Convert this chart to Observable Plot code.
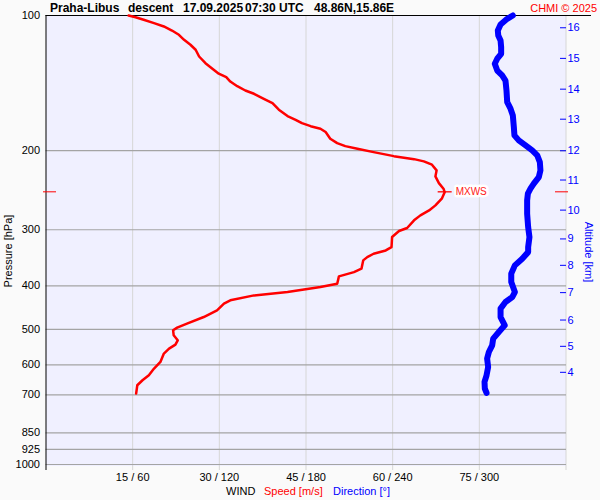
<!DOCTYPE html>
<html><head><meta charset="utf-8">
<script src="https://cdn.jsdelivr.net/npm/d3@7"></script>
<script src="https://cdn.jsdelivr.net/npm/@observablehq/plot@0.6"></script>
<style>
html,body{margin:0;padding:0;background:#fafafa;}
svg{display:block;}
</style></head><body><div id="chart"></div>
<script>
// ---- data ----
const pressureTicks = [100, 200, 300, 400, 500, 600, 700, 850, 925, 1000];
const pressureGrid = [200, 300, 400, 500, 600, 700, 850, 925, 1000];
const speedTicks = [15, 30, 45, 60, 75];
const altitudeKm = [4, 5, 6, 7, 8, 9, 10, 11, 12, 13, 14, 15, 16];
const altitudeP = [623.3, 545.5, 476.7, 414.2, 360.1, 314.5, 271.3, 232.5, 200.1, 170.2, 145.9, 124.6, 106.5];

const speedPressure = [100,100.9,102.2,104.0,105.8,108.0,110.4,113.3,116.2,119.2,123.4,127.7,131.4,134.8,137.2,140.3,143.7,146.9,149.4,153.3,156.7,162.1,167.5,170.7,173.7,176.4,178.7,181.8,188.1,192.4,195.4,198.1,201.5,205.7,208.9,211.3,214.9,221.3,228.2,236.2,243.1,247.5,255.9,264.8,271.7,278.7,285.9,297.4,302.0,311.5,328.0,333.6,339.3,345.2,351.1,366.4,372.8,381.1,395.6,402.6,413.0,420.1,430.9,438.3,453.6,469.4,485.6,495.6,502.5,515.5,528.9,540.7,551.9,566.2,591.1,611.4,632.8,649.2,666.1,695.0];
const speedValue = [14.3,15.5,16.9,18.7,20.4,21.8,23.0,23.9,25.0,25.9,26.5,27.6,28.8,29.9,31.2,31.9,33.1,34.5,36.0,37.7,39.2,40.3,41.8,43.2,44.3,45.8,47.5,48.4,49.2,50.4,51.8,53.9,56.7,60.2,63.7,65.4,66.8,67.6,67.4,68.0,68.8,69.0,68.5,67.4,66.3,64.8,63.7,62.5,61.1,59.9,59.8,58.8,56.7,55.6,54.9,54.6,53.3,50.7,50.4,47.5,41.8,36.0,31.9,30.8,29.6,27.3,24.4,22.7,22.0,22.1,22.8,22.4,21.3,20.4,19.8,18.7,17.8,16.7,15.8,15.6];

const dirPressure = [100,101.7,104.7,108.0,110.8,113.7,117.6,121.7,124.8,128.1,132.6,136.0,139.6,146.9,156.0,161.3,167.0,177.3,184.9,189.7,194.7,199.8,204.9,212.1,221.3,229.0,236.9,243.1,249.4,258.1,276.3,296.0,311.5,328.0,336.5,348.0,360.2,375.8,392.4,413.0,423.8,434.6,449.6,469.4,489.8,507.0,524.3,542.7,561.6,580.9,606.5,632.8,654.9,677.4,692.9];
const dirValue = [323.2,319.3,314.7,312.8,313.1,314.7,315.1,315.1,312.4,310.7,312.4,315.8,318.1,318.8,319.3,321.6,323.2,323.9,324.3,327.3,332.0,336.6,340.1,341.9,342.3,341.2,337.7,335.4,333.6,333.1,333.1,333.8,334.7,333.8,333.8,329.7,324.6,322.1,322.1,324.6,322.8,318.1,314.7,314.7,317.6,313.5,309.6,308.9,306.6,305.4,306.1,305.0,303.6,303.8,305.0];

const maxWindSpeed = 69.0;
const maxWindPressure = 247;

// ---- tables ----
const speedData = speedPressure.map((p, i) => ({p, v: speedValue[i]}));
const dirData = dirPressure.map((p, i) => ({p, v: dirValue[i] / 4})); // 360° on the 90 m/s scale
const altData = altitudeP.map((p, i) => ({p, km: altitudeKm[i]}));
const mx = [{p: maxWindPressure, v: maxWindSpeed}];

const hbar = {draw(ctx) { ctx.moveTo(-7, 0); ctx.lineTo(7, 0); }};

const FONT = "'Liberation Sans', Arial, Helvetica, sans-serif";

const svg = Plot.plot({
  width: 600,
  height: 500,
  marginTop: 15,
  marginBottom: 36,
  marginLeft: 45.5,
  marginRight: 34.5,
  style: {background: "transparent", fontFamily: FONT, fontSize: "11px", color: "black"},
  x: {domain: [0, 90], ticks: speedTicks, tickFormat: d => `${d} / ${d * 4}`, tickSize: 0, tickPadding: 9, label: null},
  y: {type: "log", domain: [100, 1000], reverse: true, ticks: pressureTicks, tickFormat: d => String(d), tickSize: 0, tickPadding: 6, label: null},
  marks: [
    Plot.frame({fill: "#f0f0ff", stroke: "none", insetBottom: -1.5}),
    Plot.ruleX(speedTicks.concat([90]), {stroke: "#d6d6d6", insetBottom: -6}),
    Plot.ruleY(pressureGrid, {stroke: "#a4a4a4", strokeWidth: 1.2, insetRight: -0.5}),
    Plot.ruleX([0], {stroke: "black", insetBottom: -6}),
    Plot.ruleY([100], {stroke: "black", insetRight: -25.5}),
    Plot.ruleY(altData, {y: "p", stroke: "blue", insetLeft: 514.5, insetRight: -0.5}),
    Plot.text(altData, {y: "p", text: d => String(d.km), frameAnchor: "right", dx: 1.5, textAnchor: "start", fill: "blue", fontSize: 11}),
    Plot.ruleY(mx, {y: "p", stroke: "red", insetLeft: -2.5, insetRight: 509.5}),
    Plot.ruleY(mx, {y: "p", stroke: "red", insetLeft: 509.5, insetRight: -2.5}),
    Plot.line(dirData, {x: "v", y: "p", stroke: "blue", strokeWidth: 6, strokeLinecap: "round", strokeLinejoin: "round"}),
    Plot.line(speedData, {x: "v", y: "p", stroke: "red", strokeWidth: 2.5, strokeLinejoin: "round"}),
    Plot.dot(mx, {x: "v", y: "p", symbol: hbar, stroke: "red", fill: "none", strokeWidth: 1.3}),
    Plot.text(mx, {x: "v", y: "p", text: () => "MXWS", dx: 11, textAnchor: "start", fill: "#ff2020", stroke: "white", strokeWidth: 5, fontSize: 10})
  ]
});

const s = d3.select(svg);
function addText(x, y, txt, opts = {}) {
  const t = s.append("text").attr("x", x).attr("y", y).text(txt)
    .attr("font-family", FONT).attr("font-size", opts.size || 11)
    .attr("fill", opts.fill || "black")
    .attr("text-anchor", opts.anchor || "start");
  if (opts.bold) t.attr("font-weight", "bold");
  if (opts.transform) t.attr("transform", opts.transform);
  return t;
}
addText(50, 12, "Praha-Libus", {bold: true, size: 12});
addText(128, 12, "descent", {bold: true, size: 12});
addText(183, 12, "17.09.2025", {bold: true, size: 12});
addText(245, 12, "07:30 UTC", {bold: true, size: 12});
addText(314, 12, "48.86N,15.86E", {bold: true, size: 12});
addText(597, 12, "CHMI © 2025", {fill: "red", size: 11, anchor: "end"});
addText(0, 0, "Pressure [hPa]", {anchor: "middle", transform: "translate(12,251) rotate(-90)"});
addText(0, 0, "Altitude [km]", {anchor: "middle", fill: "blue", transform: "translate(585,252) rotate(90)"});
addText(226, 495, "WIND");
addText(264, 495, "Speed [m/s]", {fill: "red"});
addText(333, 495, "Direction [°]", {fill: "blue"});

document.getElementById("chart").append(svg);
</script>
</body></html>
